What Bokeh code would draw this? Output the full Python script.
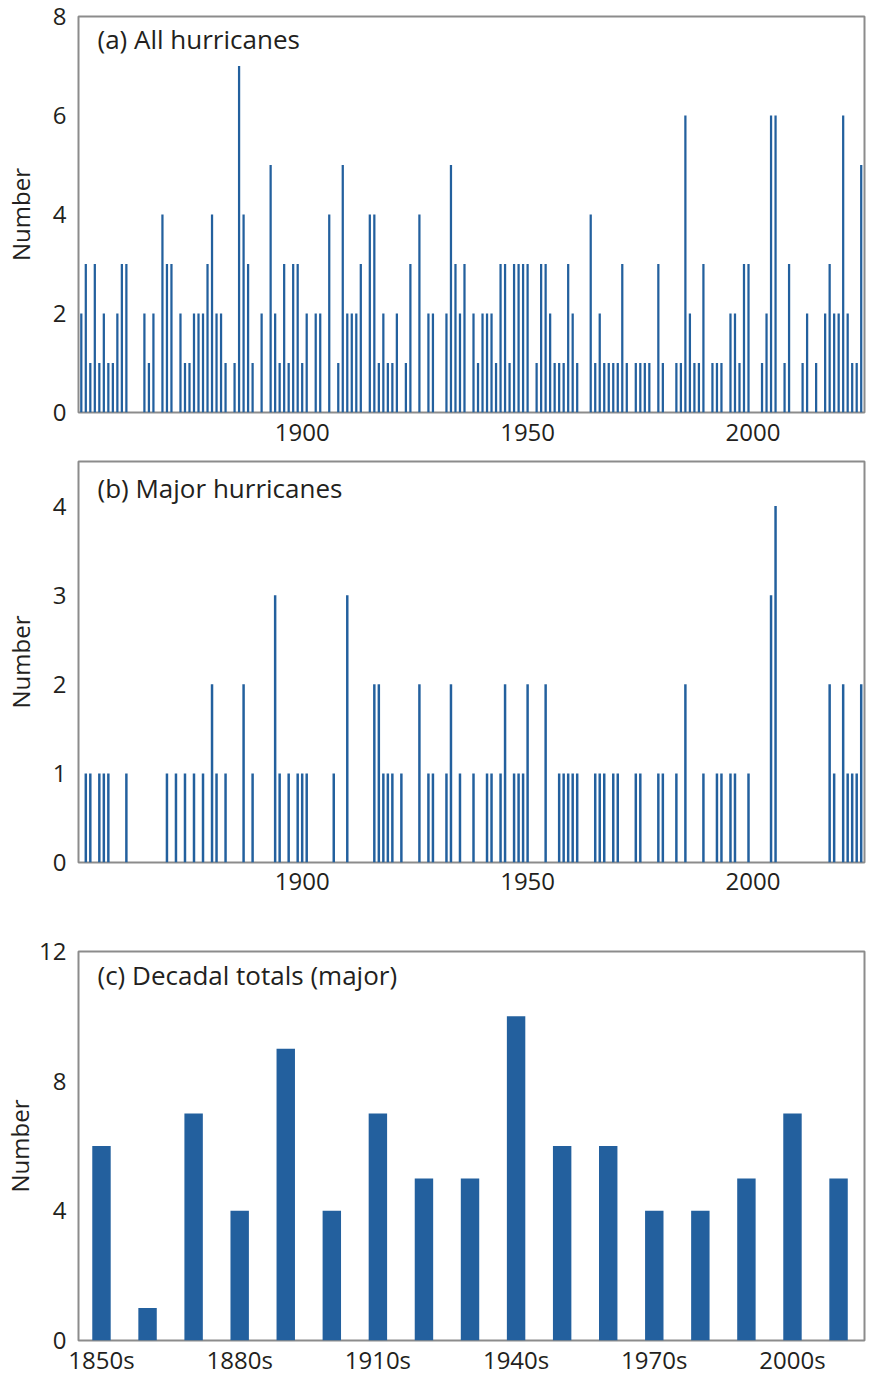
from bokeh.plotting import figure
from bokeh.layouts import column
from bokeh.models import FixedTicker, Label, Range1d, ColumnDataSource
from bokeh.embed import file_html
from bokeh.resources import INLINE

# ---------------- data ----------------
years = list(range(1851, 2025))

all_hurricanes = [
    2, 3, 1, 3, 1, 2, 1, 1, 2, 3,   # 1851-1860
    3, 0, 0, 0, 2, 1, 2, 0, 4, 3,   # 1861-1870
    3, 0, 2, 1, 1, 2, 2, 2, 3, 4,   # 1871-1880
    2, 2, 1, 0, 1, 7, 4, 3, 1, 0,   # 1881-1890
    2, 0, 5, 2, 1, 3, 1, 3, 3, 1,   # 1891-1900
    2, 0, 2, 2, 0, 4, 0, 1, 5, 2,   # 1901-1910
    2, 2, 3, 0, 4, 4, 1, 2, 1, 1,   # 1911-1920
    2, 0, 1, 3, 0, 4, 0, 2, 2, 0,   # 1921-1930
    0, 2, 5, 3, 2, 3, 0, 2, 1, 2,   # 1931-1940
    2, 2, 1, 3, 3, 1, 3, 3, 3, 3,   # 1941-1950
    0, 1, 3, 3, 2, 1, 1, 1, 3, 2,   # 1951-1960
    1, 0, 0, 4, 1, 2, 1, 1, 1, 1,   # 1961-1970
    3, 1, 0, 1, 1, 1, 1, 0, 3, 1,   # 1971-1980
    0, 0, 1, 1, 6, 2, 1, 1, 3, 0,   # 1981-1990
    1, 1, 1, 0, 2, 2, 1, 3, 3, 0,   # 1991-2000
    0, 1, 2, 6, 6, 0, 1, 3, 0, 0,   # 2001-2010
    1, 2, 0, 1, 0, 2, 3, 2, 2, 6,   # 2011-2020
    2, 1, 1, 5,                     # 2021-2024
]

major_hurricanes = [
    0, 1, 1, 0, 1, 1, 1, 0, 0, 0,   # 1851-1860
    1, 0, 0, 0, 0, 0, 0, 0, 0, 1,   # 1861-1870
    0, 1, 0, 1, 0, 1, 0, 1, 0, 2,   # 1871-1880
    1, 0, 1, 0, 0, 0, 2, 0, 1, 0,   # 1881-1890
    0, 0, 0, 3, 1, 0, 1, 0, 1, 1,   # 1891-1900
    1, 0, 0, 0, 0, 0, 1, 0, 0, 3,   # 1901-1910
    0, 0, 0, 0, 0, 2, 2, 1, 1, 1,   # 1911-1920
    0, 1, 0, 0, 0, 2, 0, 1, 1, 0,   # 1921-1930
    0, 1, 2, 0, 1, 0, 0, 1, 0, 0,   # 1931-1940
    1, 1, 0, 1, 2, 0, 1, 1, 1, 2,   # 1941-1950
    0, 0, 0, 2, 0, 0, 1, 1, 1, 1,   # 1951-1960
    1, 0, 0, 0, 1, 1, 1, 0, 1, 1,   # 1961-1970
    0, 0, 0, 1, 1, 0, 0, 0, 1, 1,   # 1971-1980
    0, 0, 1, 0, 2, 0, 0, 0, 1, 0,   # 1981-1990
    0, 1, 1, 0, 1, 1, 0, 0, 1, 0,   # 1991-2000
    0, 0, 0, 3, 4, 0, 0, 0, 0, 0,   # 2001-2010
    0, 0, 0, 0, 0, 0, 2, 1, 0, 2,   # 2011-2020
    1, 1, 1, 2,                     # 2021-2024
]

decade_labels = ["1850s", "1860s", "1870s", "1880s", "1890s", "1900s",
                 "1910s", "1920s", "1930s", "1940s", "1950s", "1960s",
                 "1970s", "1980s", "1990s", "2000s", "2010s"]
decadal_major = [6, 1, 7, 4, 9, 4, 7, 5, 5, 10, 6, 6, 4, 4, 5, 7, 5]

annual_ticks = [1900, 1950, 2000]
ticks_a = [0, 2, 4, 6, 8]
ticks_b = [0, 1, 2, 3, 4]
ticks_c = [0, 4, 8, 12]

# ---------------- style ----------------
FONT = "Open Sans"
BLUE = "#23609e"
TXT = "#231f20"
FRAME = "#8c8c8c"
TICK_FS = "24px"
AXIS_FS = "24px"
TITLE_FS = "26px"
W = 868
BL, BR = 77, 4
FRAME_W = W - BL - BR


def make_fig(height, xr, yr, b_top, b_bottom):
    p = figure(width=W, height=height, x_range=xr, y_range=yr,
               output_backend="svg", toolbar_location=None,
               min_border_left=BL, min_border_right=BR,
               min_border_top=b_top, min_border_bottom=b_bottom)
    p.xgrid.visible = False
    p.ygrid.visible = False
    p.outline_line_color = FRAME
    p.outline_line_width = 2
    p.background_fill_color = "white"
    p.border_fill_color = "white"
    for ax in (p.xaxis[0], p.yaxis[0]):
        ax.axis_line_color = None
        ax.major_tick_line_color = None
        ax.minor_tick_line_color = None
        ax.major_tick_out = 0
        ax.major_tick_in = 0
        ax.minor_tick_out = 0
        ax.major_label_text_font = FONT
        ax.major_label_text_font_size = TICK_FS
        ax.major_label_text_color = TXT
    p.yaxis[0].major_label_standoff = 12
    p.yaxis[0].axis_label = "Number"
    p.yaxis[0].axis_label_text_font = FONT
    p.yaxis[0].axis_label_text_font_size = AXIS_FS
    p.yaxis[0].axis_label_text_font_style = "normal"
    p.yaxis[0].axis_label_text_color = TXT
    return p


def add_title(p, x, y, text):
    p.add_layout(Label(x=x, y=y, text=text, text_font=FONT,
                       text_font_size=TITLE_FS, text_color=TXT,
                       text_baseline="middle", text_align="left"))


XR0, XR1 = 1850.38, 2024.73
PX_PER_YEAR = FRAME_W / (XR1 - XR0)

src = ColumnDataSource(dict(year=years, allh=all_hurricanes,
                            major=major_hurricanes))

# Panel (a): frame 16 -> 412
pa = make_fig(459, Range1d(XR0, XR1), Range1d(0, 8), 16, 47)
pa.vbar(x="year", top="allh", bottom=0, width=0.5, source=src,
        fill_color=BLUE, line_color=None)
pa.xaxis[0].ticker = FixedTicker(ticks=annual_ticks)
pa.xaxis[0].major_label_standoff = 11
pa.yaxis[0].ticker = FixedTicker(ticks=ticks_a)
pa.yaxis[0].axis_label_standoff = 13
add_title(pa, XR0 + 19 / PX_PER_YEAR, 8 - 22 * 8 / 396, "(a) All hurricanes")

# Panel (b): frame 461 -> 862
pb = make_fig(463, Range1d(XR0, XR1), Range1d(0, 4.5), 2, 60)
pb.vbar(x="year", top="major", bottom=0, width=0.55, source=src,
        fill_color=BLUE, line_color=None)
pb.xaxis[0].ticker = FixedTicker(ticks=annual_ticks)
pb.xaxis[0].major_label_standoff = 10
pb.yaxis[0].ticker = FixedTicker(ticks=ticks_b)
pb.yaxis[0].axis_label_standoff = 13
add_title(pb, XR0 + 19 / PX_PER_YEAR, 4.5 - 26 * 4.5 / 401, "(b) Major hurricanes")

# Panel (c): frame 951 -> 1341
decade_start = [int(d[:4]) for d in decade_labels]
XC0 = 1845.01
XC1 = XC0 + FRAME_W / 4.6125
srcc = ColumnDataSource(dict(x=decade_start, top=decadal_major))
pc = make_fig(456, Range1d(XC0, XC1), Range1d(0, 12), 29, 37)
pc.vbar(x="x", top="top", bottom=0, width=4, source=srcc,
        fill_color=BLUE, line_color=None)
pc.xaxis[0].ticker = FixedTicker(ticks=decade_start[::3])
pc.xaxis[0].major_label_overrides = {s: l for s, l in
                                     zip(decade_start[::3], decade_labels[::3])}
pc.xaxis[0].major_label_standoff = 2
pc.yaxis[0].ticker = FixedTicker(ticks=ticks_c)
pc.yaxis[0].axis_label_standoff = 0
add_title(pc, XC0 + 19 / 4.6125, 12 - 24 * 12 / 390,
          "(c) Decadal totals (major)")

layout = column(pa, pb, pc, spacing=0)
open("out.html", "w").write(file_html(layout, INLINE))
